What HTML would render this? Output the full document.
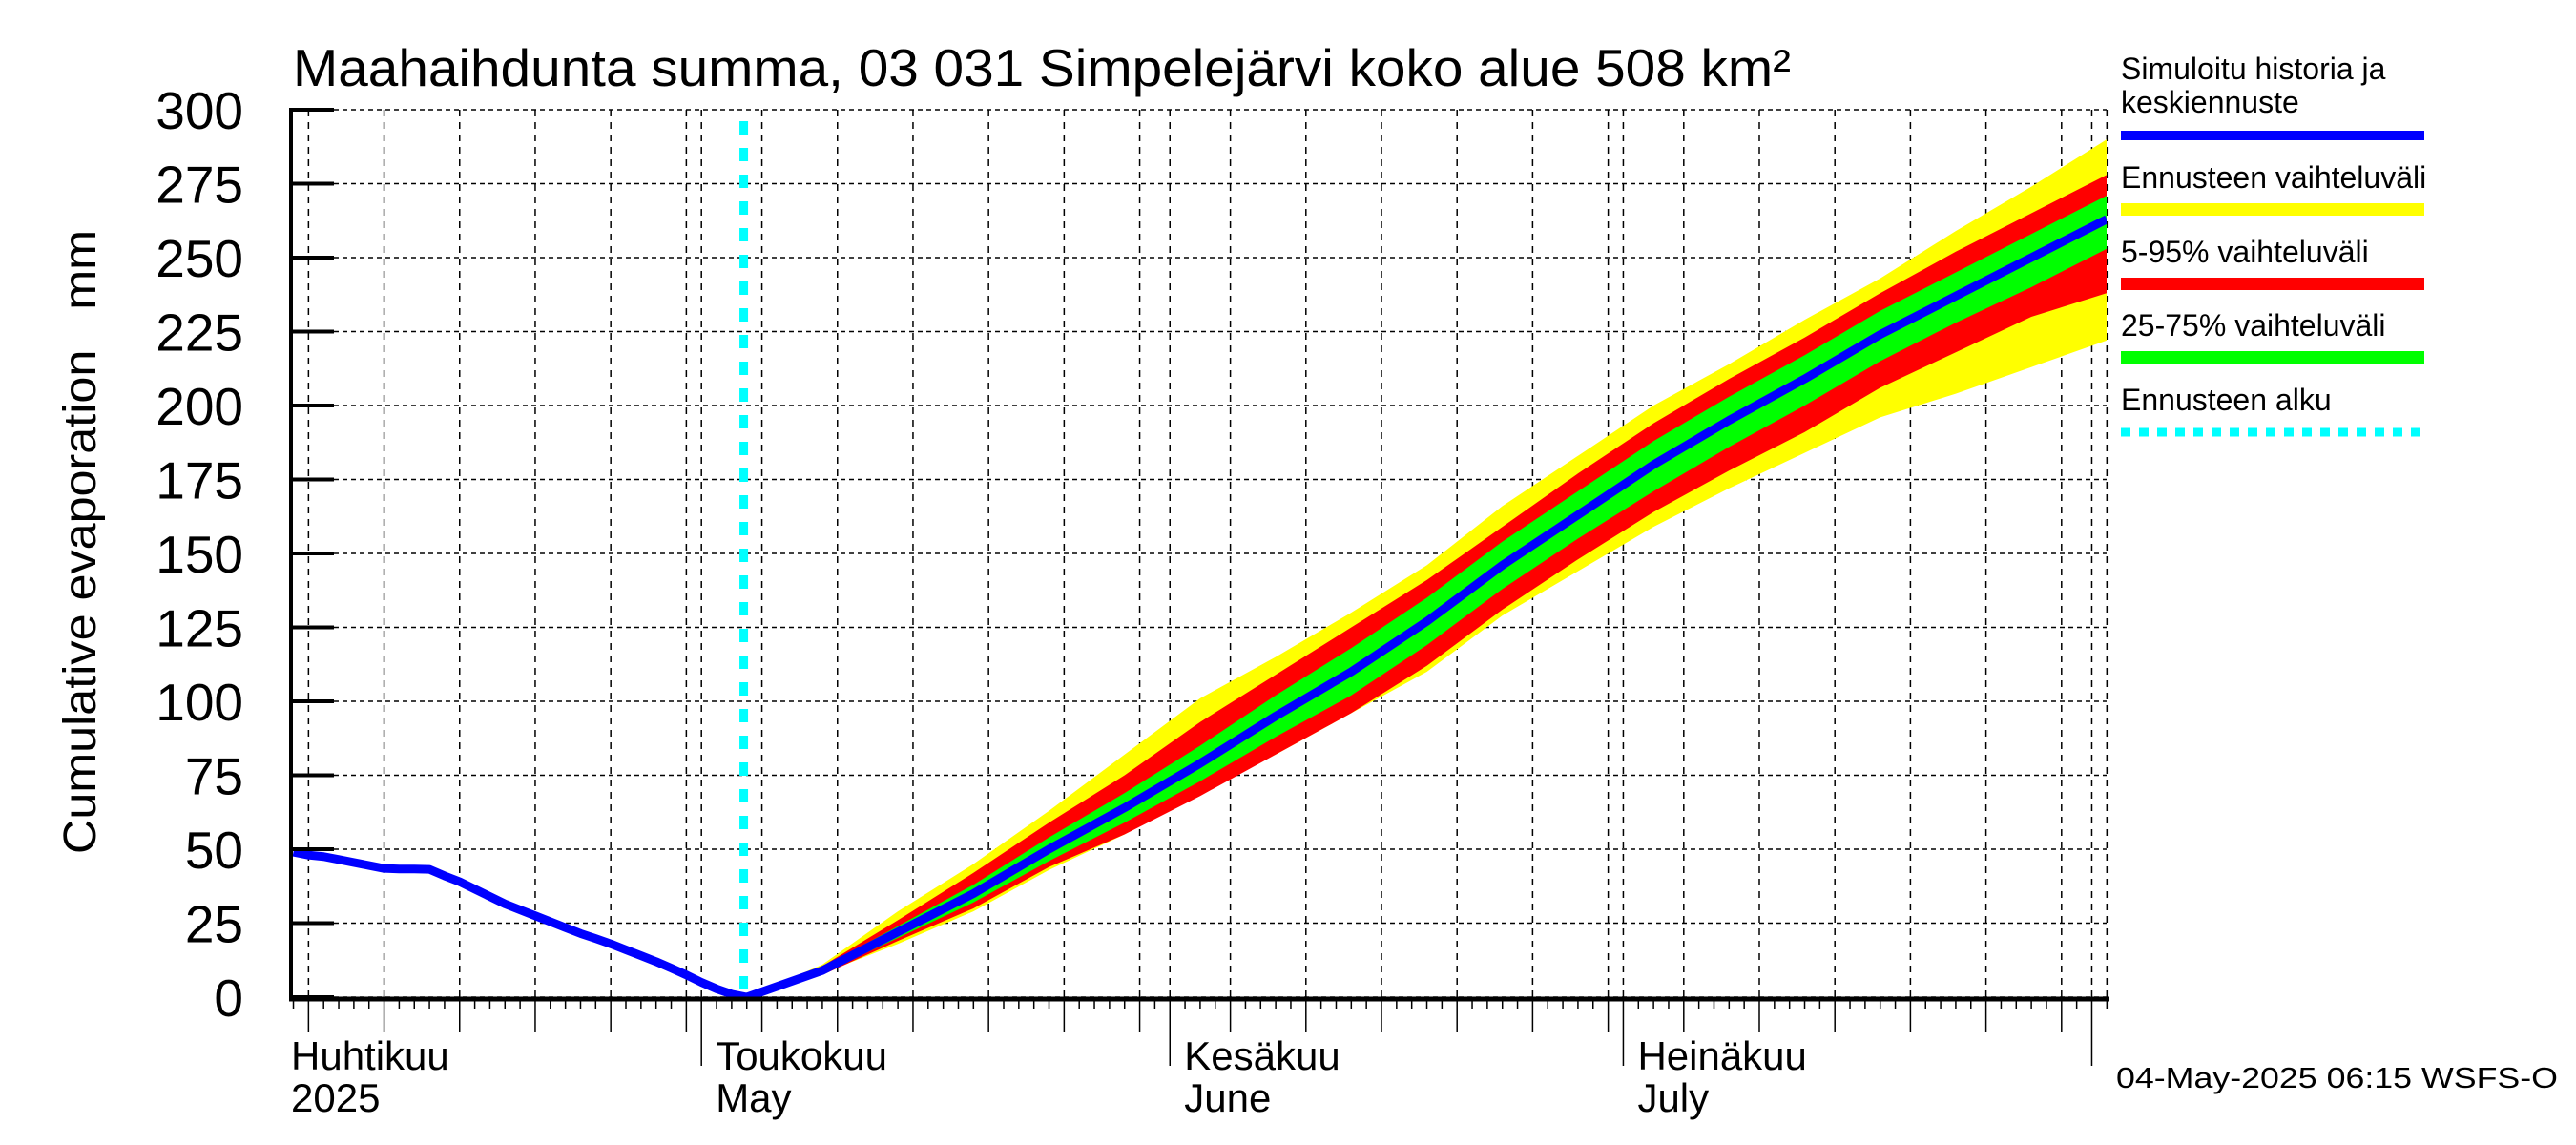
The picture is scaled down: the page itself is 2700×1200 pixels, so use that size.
<!DOCTYPE html>
<html><head><meta charset="utf-8"><style>
html,body{margin:0;padding:0;background:#fff}
svg{display:block;font-family:"Liberation Sans",sans-serif}
</style></head><body>
<svg id="chart" width="2700" height="1200" viewBox="0 0 2700 1200" xmlns="http://www.w3.org/2000/svg">
<rect x="0" y="0" width="2700" height="1200" fill="#fff"/>
<text x="307" y="90" font-size="55" textLength="1570" lengthAdjust="spacingAndGlyphs">Maahaihdunta summa, 03 031 Simpelejärvi koko alue 508 km²</text>
<text transform="translate(100,568) rotate(-90)" text-anchor="middle" font-size="48" textLength="654" lengthAdjust="spacingAndGlyphs">Cumulative evaporation&#160;&#160;&#160;mm</text>
<g id="grid"></g>
<g id="bands"></g>
<g id="lines"></g>
<g id="axes"></g>
<g id="legend">
<text x="2223" y="83" font-size="32">Simuloitu historia ja</text>
<text x="2223" y="118" font-size="32">keskiennuste</text>
<rect x="2223" y="137" width="318" height="10" fill="#0000ff"/>
<text x="2223" y="197" font-size="32">Ennusteen vaihteluväli</text>
<rect x="2223" y="213" width="318" height="13" fill="#ffff00"/>
<text x="2223" y="275" font-size="32">5-95% vaihteluväli</text>
<rect x="2223" y="291" width="318" height="13" fill="#ff0000"/>
<text x="2223" y="352" font-size="32">25-75% vaihteluväli</text>
<rect x="2223" y="368" width="318" height="14" fill="#00ff00"/>
<text x="2223" y="430" font-size="32">Ennusteen alku</text>
<line x1="2223" y1="453" x2="2541" y2="453" stroke="#00ffff" stroke-width="9" stroke-dasharray="10,9"/>
</g>
<text x="2218" y="1140" font-size="31" textLength="463" lengthAdjust="spacingAndGlyphs">04-May-2025 06:15 WSFS-O</text>
</svg>
<script>
// day index t: 0 = 1 April 2025
const histDays = [3,4,5,6,7,8,9,10,11,12,13,14,15,16,17,18,19,20,21,22,23,24,25,26,27,28,29,30,31,32,33];
const histValues = [49,48,47.5,46.5,45.5,44.5,43.5,43.3,43.3,43.2,41,39,36.5,34,31.5,29.5,27.5,25.5,23.5,21.5,19.8,18,16,14,12,9.8,7.5,5,2.8,1,0];
const fcDays = [33,38,43,48,53,58,63,68,73,78,83,88,93,98,103,108,113,118,123];
const fcMedian = [0,9,22,35,50,64,79,95,110,127,146,163,180,195,209,224,237,250,263];
const fcMax = [0,11,29,45,63,82,101,115,130,146,166,183,200,214,229,243,259,274,290];
const fcMin = [0,8,18,29,43,55,69,82,96,110,129,144,159,172,184,196,204,213,222];
const fcP95 = [0,10.5,26,42,59,75,93,109,125,141,159,177,194,209,223,238,252,265,278];
const fcP5 = [0,7.5,19,30,44,55,68,82,96,112,131,148,164,178,191,206,218,230,238];
const fcP75 = [0,10,24,38,54,69,85,102,118,135,154,171,188,203,217,232,245,258,271];
const fcP25 = [0,8,20,32,46,59,73,88,102,119,138,155,171,186,200,215,228,240,253];
const yTicks = [0,25,50,75,100,125,150,175,200,225,250,275,300];
const forecastStartDay = 32.8;
const monthStarts = [0,30,61,91,122];
const monthLabels = [["Huhtikuu","2025"],["Toukokuu","May"],["Kesäkuu","June"],["Heinäkuu","July"]];

const NS="http://www.w3.org/2000/svg";
const L=305,R=2208,T=115,B=1045,tMin=2.84,tMax=123;
const X=t=>260+15.84*t;
const Y=v=>B-(v-0)*(B-T)/300;
function mk(tag,attrs,parent){const e=document.createElementNS(NS,tag);for(const k in attrs)e.setAttribute(k,attrs[k]);parent.appendChild(e);return e;}
const svg=document.getElementById('chart');
const defs=mk('defs',{},svg);
const cp=mk('clipPath',{id:'plotclip'},defs);
mk('rect',{x:L,y:T-5,width:R-L,height:B-T+10},cp);

const grid=document.getElementById('grid');
yTicks.forEach(v=>{
  const l=mk('line',{x1:L,x2:R,y1:Y(v),y2:Y(v),stroke:'#000','stroke-width':1.5,'stroke-dasharray':'5,4'},grid);
  
  
});
const gridDays=[];
for(let m=0;m<4;m++){for(let d=5;d<=30;d+=5){const t=monthStarts[m]+d-1;if(t>tMin&&t<tMax)gridDays.push(t);}}
monthStarts.forEach(t=>{if(t>tMin&&t<tMax)gridDays.push(t);});
gridDays.push(tMax);
gridDays.forEach(t=>{
  const l=mk('line',{x1:X(t),x2:X(t),y1:T,y2:B,stroke:'#000','stroke-width':1.5,'stroke-dasharray':'7,6'},grid);
  
  
});

const bands=document.getElementById('bands');
function band(hi,lo,color,name){
  let d='';
  fcDays.forEach((t,i)=>{d+=(i?'L':'M')+X(t)+','+Y(hi[i]);});
  for(let i=fcDays.length-1;i>=0;i--)d+='L'+X(fcDays[i])+','+Y(lo[i]);
  const p=mk('path',{d:d+'Z',fill:color,'clip-path':'url(#plotclip)'},bands);
  
  
}
band(fcMax,fcMin,'#ffff00','band-range');
band(fcP95,fcP5,'#ff0000','band-5-95');
band(fcP75,fcP25,'#00ff00','band-25-75');

const lines=document.getElementById('lines');
const cy=mk('line',{x1:X(forecastStartDay),x2:X(forecastStartDay),y1:T+12,y2:B,stroke:'#00ffff','stroke-width':9,'stroke-dasharray':'14,14'},lines);


let pd='';
histDays.forEach((t,i)=>{pd+=(i?'L':'M')+X(t)+','+Y(histValues[i]);});
fcDays.forEach((t,i)=>{if(i>0)pd+='L'+X(t)+','+Y(fcMedian[i]);});
const bl=mk('path',{d:pd,fill:'none',stroke:'#0000ff','stroke-width':9,'stroke-linejoin':'round','clip-path':'url(#plotclip)'},lines);



const axes=document.getElementById('axes');
const la=mk('line',{x1:L,x2:L,y1:T-2,y2:B+3,stroke:'#000','stroke-width':4},axes);


const ba=mk('line',{x1:L-2,x2:R+2,y1:B+2,y2:B+2,stroke:'#000','stroke-width':5},axes);


yTicks.forEach(v=>{
  const tk=mk('line',{x1:L,x2:L+45,y1:Y(v),y2:Y(v),stroke:'#000','stroke-width':4},axes);
  
  
  const tx=mk('text',{x:255,y:Y(v)+20,'text-anchor':'end','font-size':55},axes);
  tx.textContent=v;
  
  
});
for(let t=Math.ceil(tMin);t<=tMax;t++){
  const isMonth=monthStarts.includes(t);
  const dom=t-monthStarts.filter(m=>m<=t).pop()+1;
  const len=isMonth?70:(dom%5===0?35:10);
  const tk=mk('line',{x1:X(t),x2:X(t),y1:B+2,y2:B+2+len,stroke:'#000','stroke-width':1.5},axes);
  
  
}
monthLabels.forEach((lab,i)=>{
  const x=i===0?L:X(monthStarts[i])+15;
  const a=mk('text',{x:x,y:1121,'font-size':42},axes);
  a.textContent=lab[0];
  
  
  const b=mk('text',{x:x,y:1165,'font-size':42},axes);
  b.textContent=lab[1];
  
  
});
</script>
</body></html>
